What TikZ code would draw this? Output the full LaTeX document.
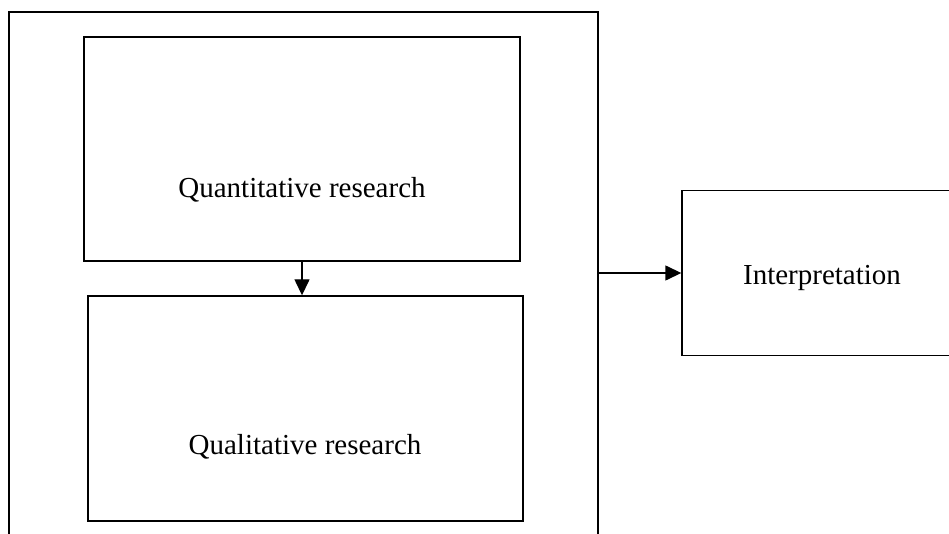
\documentclass[tikz,border=0pt]{standalone}
\usepackage{fontspec}
\setmainfont{Liberation Serif}
\usetikzlibrary{arrows.meta,positioning}
\tikzset{box/.style={draw, rectangle, inner sep=0pt},
  lbl/.style={inner sep=0pt, font=\fontsize{29}{34}\selectfont},
  arr/.style={-{Triangle[length=16pt,width=15pt]}}}

\begin{document}
\begin{tikzpicture}[x=1pt,y=-1pt,line width=1.4pt]
\useasboundingbox (0,0) rectangle (949,534);
\clip (0,0) rectangle (949,534);
%the big frame, its bottom is cut off
\node [box, minimum width=589pt, minimum height=560pt] (frame) at (303.5,292) {};
\node [box, minimum width=436pt, minimum height=224pt] (quant) at (302,149) {};
\node [box, minimum width=435pt, minimum height=225pt] (qual) at (305.5,408.5) {};
%right box, its right side is cut off
\node [box, minimum width=300pt, minimum height=165pt] (interp) at (832,273) {};
\node [lbl] (tquant) at (302,190) {Quantitative research};
\node [lbl] (tqual) at (305,447) {Qualitative research};
\node [lbl] (tinterp) at (822,278) {Interpretation};
\draw [arr] (quant.south) -- (quant.south |- qual.north);
\draw [arr] (interp.west -| frame.east) -- (interp.west);
\end{tikzpicture}
\end{document}
